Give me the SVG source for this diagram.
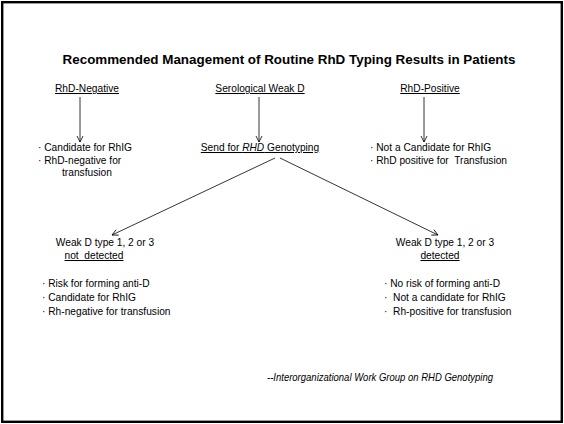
<svg xmlns="http://www.w3.org/2000/svg" width="564" height="424" viewBox="0 0 564 424">
<style>
text{font-family:"Liberation Sans",Arial,sans-serif;font-size:10.2px;fill:#000}
.t{font-size:13.4px;font-weight:bold}
.u{text-decoration:underline}
.c{text-anchor:middle}
.i{font-style:italic}
.ln{stroke:#000;stroke-width:0.8;fill:none}
</style>
<defs>
<marker id="ah" markerWidth="8" markerHeight="8" refX="7" refY="4" orient="auto" markerUnits="userSpaceOnUse">
<path d="M1,1 L7,4 L1,7" fill="none" stroke="#000" stroke-width="0.8"/>
</marker>
</defs>
<rect x="2.2" y="2.2" width="559.6" height="419.6" fill="#fff" stroke="#000" stroke-width="2.4"/>
<text class="t c" x="289" y="64">Recommended Management of Routine RhD Typing Results in Patients</text>
<g id="connectors">
<line class="ln" x1="80" y1="97" x2="80" y2="142" marker-end="url(#ah)"/>
<line class="ln" x1="259" y1="97" x2="259" y2="142" marker-end="url(#ah)"/>
<line class="ln" x1="424" y1="97" x2="424" y2="142" marker-end="url(#ah)"/>
<line class="ln" x1="275" y1="158" x2="112" y2="235" marker-end="url(#ah)"/>
<line class="ln" x1="280" y1="158" x2="438" y2="235" marker-end="url(#ah)"/>
</g>
<g id="rhd-negative"><text class="c u" x="87" y="92">RhD-Negative</text></g>
<g id="serological-weak-d"><text class="c u" x="260" y="92">Serological Weak D</text></g>
<g id="rhd-positive"><text class="c u" x="430" y="92">RhD-Positive</text></g>
<g id="negative-notes">
<text x="38" y="151">· Candidate for RhIG</text>
<text x="38" y="164">· RhD-negative for</text>
<text x="62" y="176">transfusion</text>
</g>
<g id="send-genotyping"><text class="c u" x="260" y="151">Send for <tspan class="i">RHD</tspan> Genotyping</text></g>
<g id="positive-notes">
<text x="370" y="151">· Not a Candidate for RhIG</text>
<text x="370" y="164" xml:space="preserve">· RhD positive for  Transfusion</text>
</g>
<g id="not-detected">
<text class="c" x="105" y="246">Weak D type 1, 2 or 3</text>
<text class="c u" x="94" y="259" xml:space="preserve">not  detected</text>
<text x="42" y="287">· Risk for forming anti-D</text>
<text x="42" y="301">· Candidate for RhIG</text>
<text x="42" y="315">· Rh-negative for transfusion</text>
</g>
<g id="detected">
<text class="c" x="445" y="246">Weak D type 1, 2 or 3</text>
<text class="c u" x="440" y="259">detected</text>
<text x="384" y="287">· No risk of forming anti-D</text>
<text x="384" y="301" xml:space="preserve">·  Not a candidate for RhIG</text>
<text x="384" y="315" xml:space="preserve">·  Rh-positive for transfusion</text>
</g>
<g id="citation"><text class="i" x="267" y="381" textLength="226" lengthAdjust="spacingAndGlyphs">--Interorganizational Work Group on RHD Genotyping</text></g>
</svg>
